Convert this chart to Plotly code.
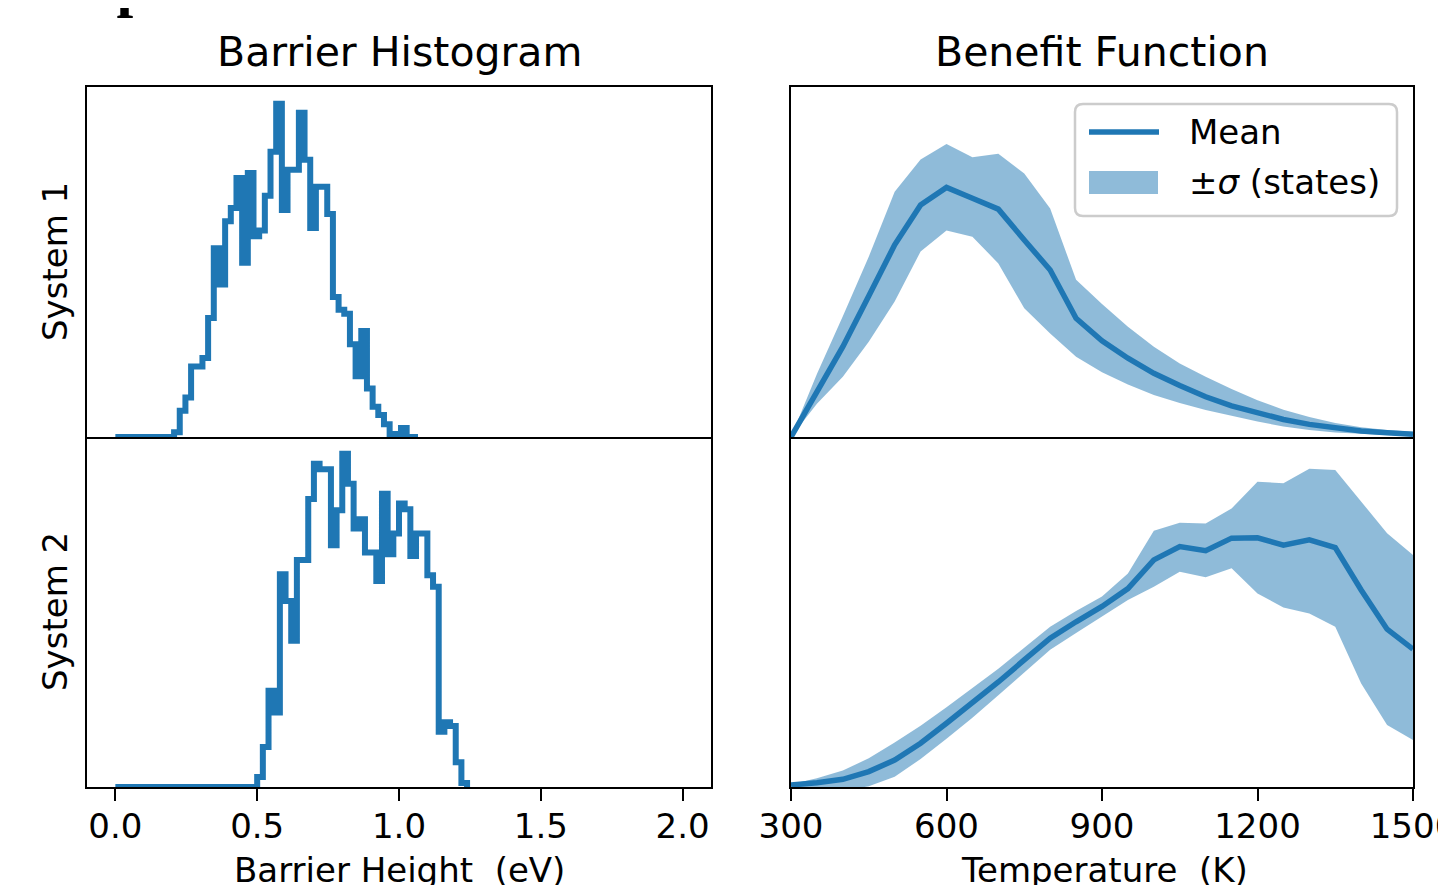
import plotly.graph_objects as go

# page has an 8px body margin, so the figure is drawn from (8, 8)
OFF = 8
W, H = 1446 - OFF, 885 - OFF
BLUE = '#1f77b4'
BAND = 'rgba(31,119,180,0.5)'
FONT = 'DejaVu Sans'

# ---------------- data ----------------
hist_bin_width = 0.02
sys1_bin_start = 0.207
sys1_heights = [4.7, 26.3, 39.7, 70.7, 70.7, 79.3, 119.3, 189.3, 153.0, 216.3,
                229.7, 259.7, 174.7, 264.7, 201.3, 207.0, 242.0, 286.0, 334.3, 227.7,
                268.0, 268.0, 325.3, 278.0, 209.7, 251.0, 251.0, 223.7, 140.3, 127.7,
                123.7, 93.0, 61.0, 106.3, 48.7, 30.3, 22.0, 12.7, 3.0, 3.0,
                9.0, 0.0, 0.0]
sys2_bin_start = 0.50
sys2_heights = [10.0, 40.0, 96.3, 74.5, 213.0, 186.3, 146.3, 227.2, 227.2, 288.2,
                323.5, 318.0, 318.0, 242.0, 277.0, 333.7, 303.7, 258.7, 268.0, 234.7,
                234.7, 206.3, 293.5, 233.0, 253.8, 283.7, 278.0, 231.3, 253.7, 253.7,
                212.0, 200.5, 55.3, 64.7, 61.0, 24.7, 4.0]

temperature = [300, 350, 400, 450, 500, 550, 600, 650, 700, 750, 800, 850, 900,
               950, 1000, 1050, 1100, 1150, 1200, 1250, 1300, 1350, 1400, 1450, 1500]
sys1_mean = [0.0, 0.13, 0.258, 0.403, 0.549, 0.663, 0.713, 0.682, 0.651, 0.563, 0.477, 0.339, 0.275,
             0.225, 0.182, 0.147, 0.115, 0.089, 0.068, 0.050, 0.036, 0.025, 0.017, 0.012, 0.008]
sys1_upper = [0.0, 0.18, 0.345, 0.515, 0.701, 0.793, 0.837, 0.799, 0.809, 0.753, 0.653, 0.449, 0.38,
              0.315, 0.258, 0.21, 0.172, 0.137, 0.105, 0.078, 0.057, 0.04, 0.028, 0.02, 0.015]
sys1_lower = [0.0, 0.095, 0.172, 0.272, 0.387, 0.53, 0.59, 0.572, 0.496, 0.368, 0.296, 0.229, 0.185,
              0.15, 0.12, 0.097, 0.077, 0.06, 0.044, 0.03, 0.02, 0.013, 0.009, 0.006, 0.004]
sys2_mean = [0.006, 0.012, 0.022, 0.044, 0.077, 0.125, 0.182, 0.239, 0.300, 0.363, 0.425, 0.472, 0.516,
             0.567, 0.649, 0.687, 0.675, 0.711, 0.712, 0.691, 0.706, 0.684, 0.563, 0.451, 0.394]
sys2_upper = [0.008, 0.025, 0.047, 0.082, 0.127, 0.175, 0.228, 0.282, 0.338, 0.398, 0.458, 0.503, 0.544,
              0.61, 0.732, 0.755, 0.753, 0.796, 0.872, 0.868, 0.909, 0.906, 0.815, 0.725, 0.663]
sys2_lower = [0.003, -0.005, -0.01, 0.002, 0.029, 0.08, 0.138, 0.198, 0.262, 0.328, 0.392, 0.44, 0.487,
              0.534, 0.572, 0.615, 0.599, 0.625, 0.553, 0.513, 0.496, 0.458, 0.296, 0.177, 0.134]

barrier_ticks = [0.0, 0.5, 1.0, 1.5, 2.0]
barrier_ticktext = ['0.0', '0.5', '1.0', '1.5', '2.0']
temp_ticks = [300, 600, 900, 1200, 1500]
temp_ticktext = ['300', '600', '900', '1200', '1500']


def step_xy(start, width, heights):
    edges = [start + width * i for i in range(len(heights) + 1)]
    return [0.0] + edges, [0.0] + list(heights) + [0.0]


def px(xp):
    return (xp - OFF) / W


def py(yp):
    return 1 - (yp - OFF) / H


fig = go.Figure()

# histograms
for (start, heights, xa, ya) in [(sys1_bin_start, sys1_heights, 'x', 'y'),
                                 (sys2_bin_start, sys2_heights, 'x3', 'y3')]:
    hx, hy = step_xy(start, hist_bin_width, heights)
    fig.add_trace(go.Scatter(x=hx, y=hy, mode='lines', line=dict(color=BLUE, width=6, shape='hv'),
                             xaxis=xa, yaxis=ya, showlegend=False, hoverinfo='skip'))

# benefit functions
for (mean, up, lo, xa, ya) in [(sys1_mean, sys1_upper, sys1_lower, 'x2', 'y2'),
                               (sys2_mean, sys2_upper, sys2_lower, 'x4', 'y4')]:
    fig.add_trace(go.Scatter(x=temperature, y=lo, mode='lines', line=dict(width=0, color=BAND),
                             xaxis=xa, yaxis=ya, showlegend=False, hoverinfo='skip'))
    fig.add_trace(go.Scatter(x=temperature, y=up, mode='lines', line=dict(width=0, color=BAND),
                             fill='tonexty', fillcolor=BAND, name='±σ (states)',
                             xaxis=xa, yaxis=ya, showlegend=False, hoverinfo='skip'))
    fig.add_trace(go.Scatter(x=temperature, y=mean, mode='lines', line=dict(width=5.5, color=BLUE),
                             name='Mean', xaxis=xa, yaxis=ya, showlegend=False, hoverinfo='skip'))

L_X = [px(87), px(711)]
R_X = [px(791), px(1413)]
T_Y = [py(437), py(87)]
B_Y = [py(787), py(437)]

frame = dict(showline=True, linecolor='black', linewidth=2, mirror=True,
             showgrid=False, zeroline=False, automargin=False)
tickfont = dict(family=FONT, size=34, color='black')

top_x = dict(frame, showticklabels=False, ticks='')
bot_x = dict(frame, mirror=False, ticks='outside', ticklen=12, tickwidth=2, tickcolor='black',
             tickfont=tickfont, ticklabelstandoff=-4, ticklabeloverflow='allow')
yax = dict(frame, showticklabels=False, ticks='')

fig.update_layout(
    width=W, height=H,
    margin=dict(l=0, r=0, t=0, b=0, autoexpand=False),
    paper_bgcolor='white', plot_bgcolor='white',
    showlegend=False,
    xaxis=dict(top_x, domain=L_X, range=[-0.1, 2.1], anchor='y'),
    yaxis=dict(yax, domain=T_Y, range=[0, max(sys1_heights) * 1.05], anchor='x'),
    xaxis2=dict(top_x, domain=R_X, range=[300, 1500], anchor='y2'),
    yaxis2=dict(yax, domain=T_Y, range=[0, 1], anchor='x2'),
    xaxis3=dict(bot_x, domain=L_X, range=[-0.1, 2.1], anchor='y3',
                tickvals=barrier_ticks, ticktext=barrier_ticktext),
    yaxis3=dict(yax, domain=B_Y, range=[0, max(sys2_heights) * 1.05], anchor='x3'),
    xaxis4=dict(bot_x, domain=R_X, range=[300, 1500], anchor='y4',
                tickvals=temp_ticks, ticktext=temp_ticktext),
    yaxis4=dict(yax, domain=B_Y, range=[0, 1], anchor='x4'),
)

ann = []


def text(t, x, y, size=34, angle=0, xanchor='center', family=FONT, **kw):
    ann.append(dict(text=t, x=px(x), y=py(y), xref='paper', yref='paper', showarrow=False,
                    xanchor=xanchor, yanchor='middle', textangle=angle,
                    font=dict(family=family, size=size, color='black'), **kw))


text('<b>temperature for each state.</b>', 18, -15, size=60, xanchor='left', family='Liberation Serif')
text('Barrier Histogram', 399, 52, size=41)
text('Benefit Function', 1102, 52, size=41)
text('System 1', 55, 262, angle=-90)
text('System 2', 55, 612, angle=-90)
text('Barrier Height  (eV)', 399, 870)
text('Temperature  (K)', 1104, 870)
text('Mean', 1187, 132, xanchor='left')
text('±<i>σ</i> (states)', 1187, 182, xanchor='left')

# legend box
x0, x1, y0, y1, r = px(1075), px(1397), py(104), py(216), 8
rx, ry = r / W, r / H
legend_path = (f'M {x0 + rx},{y0} L {x1 - rx},{y0} Q {x1},{y0} {x1},{y0 - ry} '
               f'L {x1},{y1 + ry} Q {x1},{y1} {x1 - rx},{y1} L {x0 + rx},{y1} '
               f'Q {x0},{y1} {x0},{y1 + ry} L {x0},{y0 - ry} Q {x0},{y0} {x0 + rx},{y0} Z')
shapes = [
    dict(type='path', path=legend_path, xref='paper', yref='paper',
         line=dict(color='#cccccc', width=2.5), fillcolor='rgba(255,255,255,0.8)', layer='above'),
    dict(type='line', x0=px(1089), x1=px(1159), y0=py(132), y1=py(132), xref='paper', yref='paper',
         line=dict(color=BLUE, width=5.5), layer='above'),
    dict(type='rect', x0=px(1089), x1=px(1158), y0=py(171), y1=py(194), xref='paper', yref='paper',
         line=dict(width=0), fillcolor=BAND, layer='above'),
]

fig.update_layout(annotations=ann, shapes=shapes)
fig.write_html('out.html')
